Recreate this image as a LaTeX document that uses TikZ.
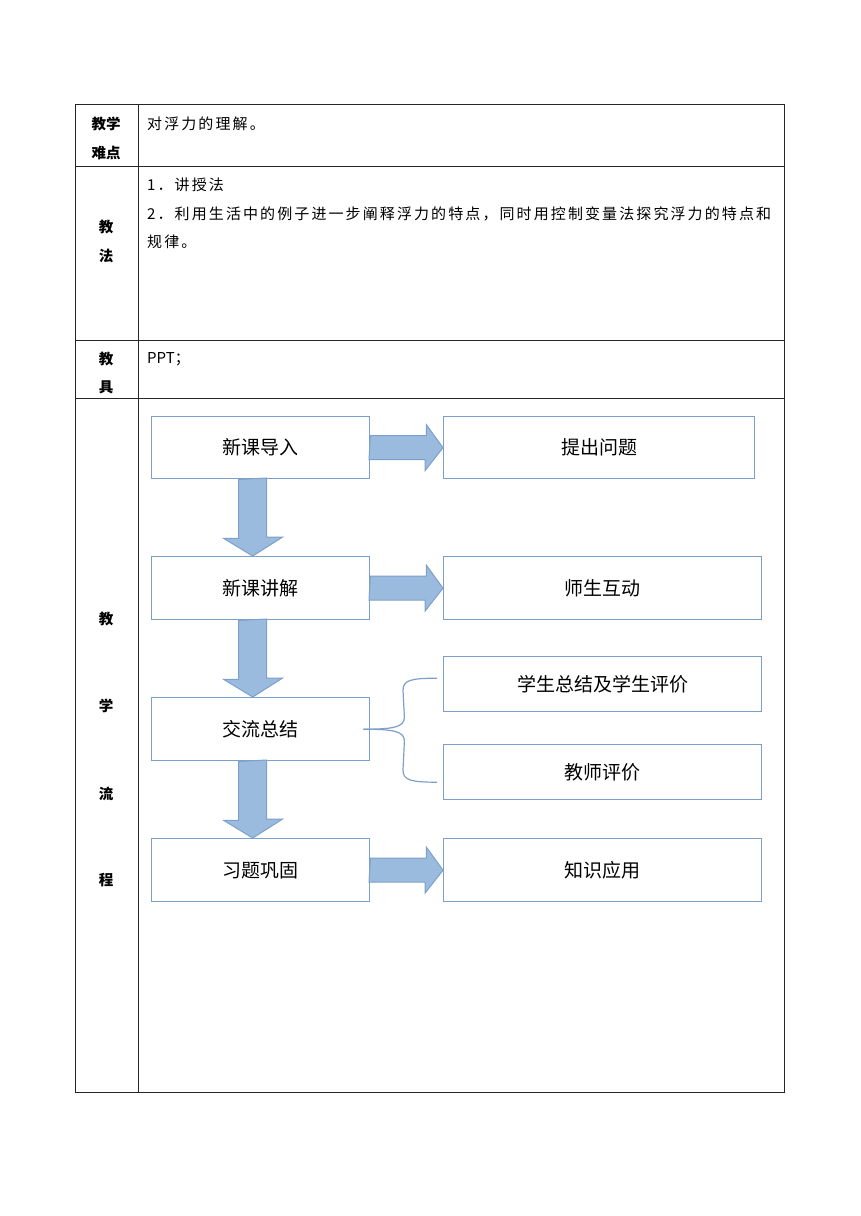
\documentclass[tikz,border=0pt]{standalone}
\usepackage{fontspec}
\usetikzlibrary{calc}
\newfontfamily\bodyf[LetterSpace=14]{Noto Sans CJK SC}
\newfontfamily\flowf{Noto Sans CJK SC}
\newfontfamily\labf{Noto Sans CJK SC}
\definecolor{boxblue}{RGB}{125,160,202}
\definecolor{arrfill}{RGB}{155,187,222}
\begin{document}
\begin{tikzpicture}[x=1pt,y=-1pt,
  grid/.style={draw=black!85,line width=0.8pt},
  lab/.style={font=\fontsize{14.5}{16}\labf\bfseries,anchor=center,inner sep=0pt},
  body/.style={font=\fontsize{15}{17}\bodyf,anchor=west,inner sep=0pt},
  fbox/.style={draw=boxblue,line width=1.4pt,fill=white,font=\fontsize{19}{22}\flowf,inner sep=0pt,anchor=north west},
  bigarrow/.style={draw=boxblue,fill=arrfill,line width=1pt,line join=miter},
  bracel/.style={draw=boxblue,line width=1.2pt}]
\useasboundingbox (0,0) rectangle (860,1216);
% table
\draw[grid] (75,104) rectangle (784,1092);
\draw[grid] (138,104) -- (138,1092);
\draw[grid] (75,166) -- (784,166);
\draw[grid] (75,340) -- (784,340);
\draw[grid] (75,398) -- (784,398);
% left labels
\node[lab] (l1a) at (106,124) {教学};
\node[lab] (l1b) at (106,153) {难点};
\node[lab] (l2a) at (106,227) {教};
\node[lab] (l2b) at (106,256) {法};
\node[lab] (l3a) at (106,359) {教};
\node[lab] (l3b) at (106,387) {具};
\node[lab] (l4a) at (106,619) {教};
\node[lab] (l4b) at (106,706) {学};
\node[lab] (l4c) at (106,794) {流};
\node[lab] (l4d) at (106,880) {程};
% body texts
\node[body] (t1) at (147,124) {对浮力的理解。};
\node[body] (t2) at (147,185) {1．讲授法};
\node[body] (t3) at (147,214) {2．利用生活中的例子进一步阐释浮力的特点，同时用控制变量法探究浮力的特点和};
\node[body] (t4) at (147,242) {规律。};
\node[body,font=\fontsize{15}{17}\flowf] (t5) at (147,359) {PPT；};
% flow boxes
\node[fbox,minimum width=218pt,minimum height=62pt] (a) at (151,416) {新课导入};
\node[fbox,minimum width=311pt,minimum height=62pt] (a2) at (443,416) {提出问题};
\node[fbox,minimum width=218pt,minimum height=63pt] (b) at (151,556) {新课讲解};
\node[fbox,minimum width=318pt,minimum height=63pt] (b2) at (443,556) {师生互动};
\node[fbox,minimum width=218pt,minimum height=63pt] (c) at (151,697) {交流总结};
\node[fbox,minimum width=318pt,minimum height=55pt] (c1) at (443,656) {学生总结及学生评价};
\node[fbox,minimum width=318pt,minimum height=55pt] (c2) at (443,744) {教师评价};
\node[fbox,minimum width=218pt,minimum height=63pt] (d) at (151,838) {习题巩固};
\node[fbox,minimum width=318pt,minimum height=63pt] (d2) at (443,838) {知识应用};
% horizontal arrows
\foreach \s/\t in {a/a2,b/b2,d/d2}{
  \draw[bigarrow] (\s.east) ++(0,-12) -- ++(56,0) -- ++(0,-11) -- (\t.west) -- ++(-18,23) -- ++(0,-11) -- ++(-56,0) -- cycle;
}
% vertical arrows
\foreach \s/\t in {a/b,b/c,c/d}{
  \draw[bigarrow] ($(\s.south)+(-22,0)$) -- ++(0,59) -- ++(-15,0) -- ($(\t.north)+(-8,0)$) -- ++(30,-19) -- ++(-16,0) -- ++(0,-59) -- cycle;
}
% brace
\coordinate (bs) at ($(c.east)+(-7,0)$);
\coordinate (bt) at ($(c1.west)+(-6,-6)$);
\coordinate (bb) at ($(c2.west)+(-6,10)$);
\draw[bracel] (bs) .. controls ($(bs)+(30,0)$) and ($(bs)+(41,-2)$) .. ($(bs)+(41,-12)$)
  -- ($(bt)+(-34,12)$) .. controls ($(bt)+(-34,2)$) and ($(bt)+(-26,0)$) .. (bt);
\draw[bracel] (bs) .. controls ($(bs)+(30,0)$) and ($(bs)+(41,2)$) .. ($(bs)+(41,12)$)
  -- ($(bb)+(-34,-12)$) .. controls ($(bb)+(-34,-2)$) and ($(bb)+(-26,0)$) .. (bb);
\end{tikzpicture}
\end{document}
